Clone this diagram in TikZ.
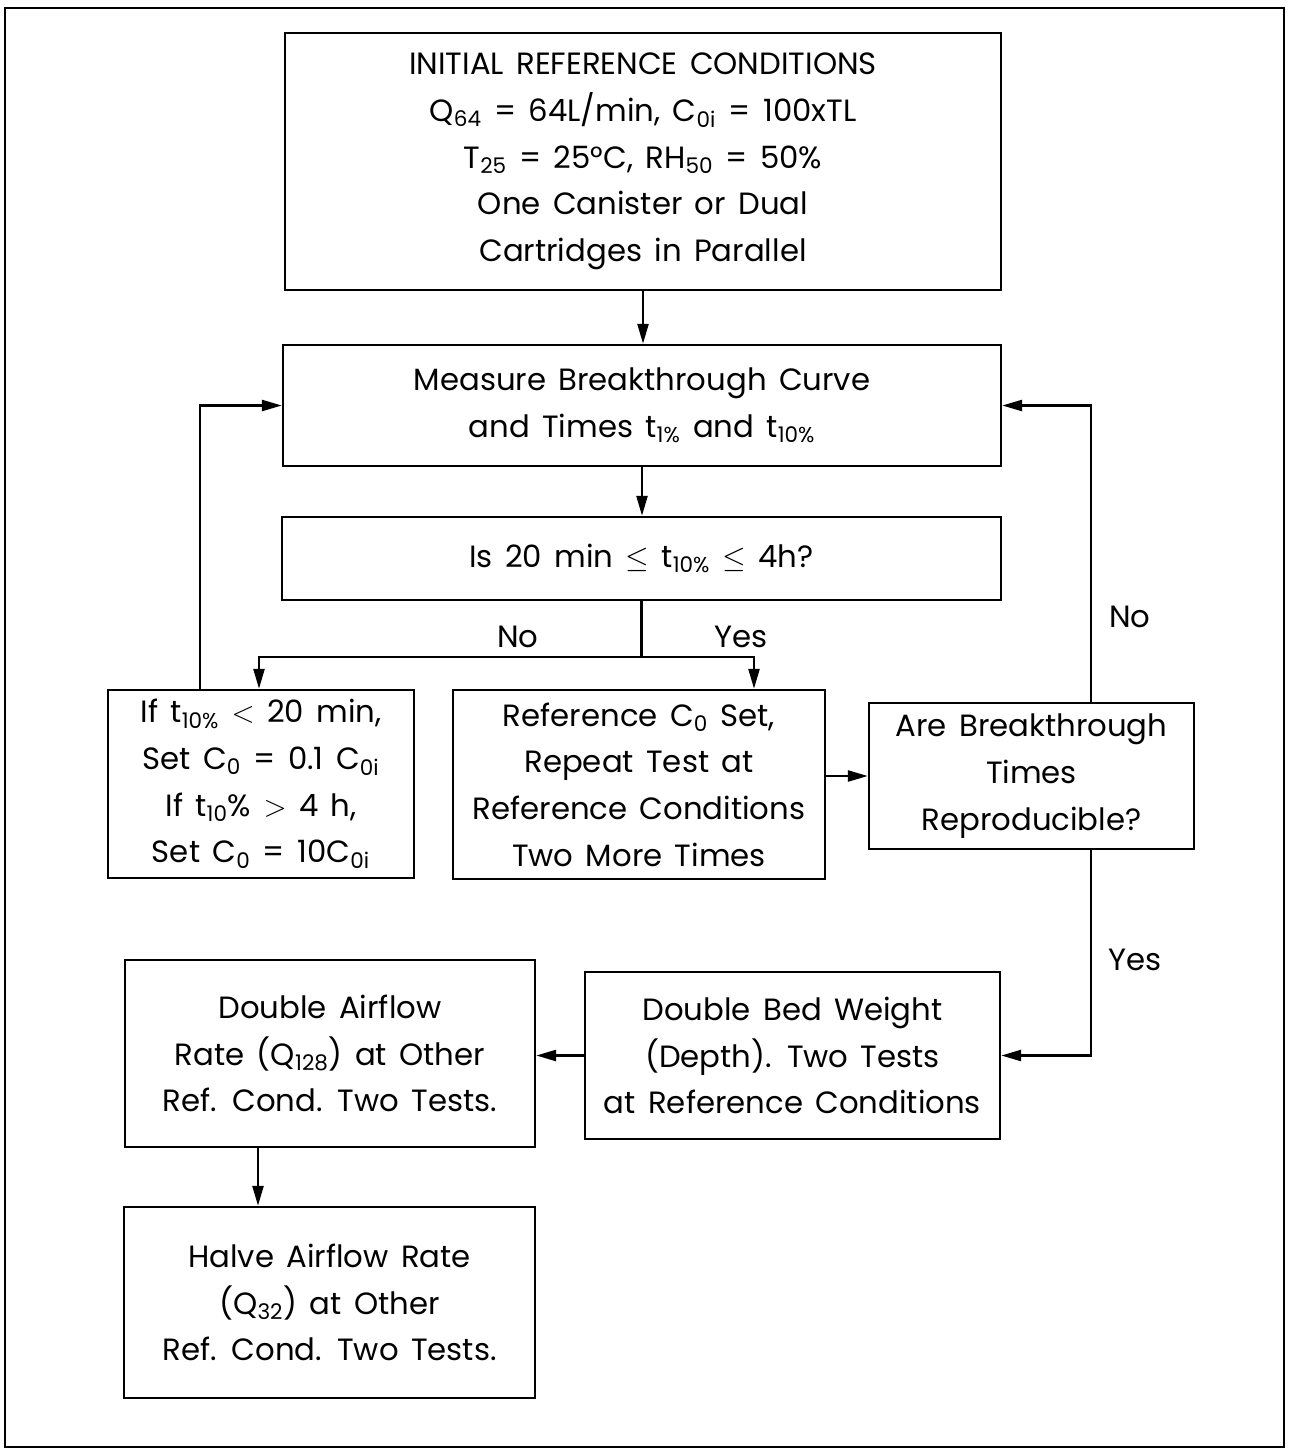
\documentclass[tikz,border=0pt]{standalone}
\usepackage{fontspec}
\setmainfont{Poppins}[WordSpace=1.5]
\usepackage{tikz}
\usetikzlibrary{shapes,arrows.meta,positioning,calc}
\tikzset{
  flowbox/.style={draw, rectangle, line width=1.4pt, align=center, inner sep=0pt,
    font=\fontsize{17.5}{26.6}\selectfont},
  flowlbl/.style={font=\fontsize{17.5}{20}\selectfont},
  flowarr/.style={line width=1.4pt, -{Triangle[length=0.4cm, width=0.22cm]}},
  flowline/.style={line width=1.4pt}
}

\begin{document}
\begin{tikzpicture}[x=0.02cm, y=-0.02cm]
    % page frame, coordinates in pixels of the original sheet
    \useasboundingbox (0,0) rectangle (1288,1450);
    \draw[line width=1.2pt] (5,8) rectangle (1284,1447);
    % boxes
    \node[flowbox, minimum width=14.32cm, minimum height=5.14cm] (init) at (643,161.5)
      {INITIAL REFERENCE CONDITIONS\\
       Q\textsubscript{64} = 64L/min, C\textsubscript{0i} = 100xTL\\
       T\textsubscript{25} = 25°C, RH\textsubscript{50} = 50\%\\
       One Canister or Dual\\
       Cartridges in Parallel};
    \node[flowbox, minimum width=14.36cm, minimum height=2.42cm] (meas) at (642,405.5)
      {Measure Breakthrough Curve\\
       and Times t\textsubscript{1\%} and t\textsubscript{10\%}};
    \node[flowbox, minimum width=14.38cm, minimum height=1.66cm] (test) at (641.5,558.5)
      {Is 20 min $\leq$ t\textsubscript{10\%} $\leq$ 4h?};
    \node[flowbox, minimum width=6.12cm, minimum height=3.76cm] (lowc) at (261,784)
      {If t\textsubscript{10\%} $<$ 20 min,\\
       Set C\textsubscript{0} = 0.1 C\textsubscript{0i}\\
       If t\textsubscript{10}\% $>$ 4 h,\\
       Set C\textsubscript{0} = 10C\textsubscript{0i}};
    \node[flowbox, minimum width=7.44cm, minimum height=3.78cm] (refc) at (639,784.5)
      {Reference C\textsubscript{0} Set,\\
       Repeat Test at\\
       Reference Conditions\\
       Two More Times};
    \node[flowbox, minimum width=6.5cm, minimum height=2.92cm] (repro) at (1031.5,776)
      {Are Breakthrough\\ Times\\ Reproducible?};
    \node[flowbox, minimum width=8.3cm, minimum height=3.34cm] (bed) at (792.5,1055.5)
      {Double Bed Weight\\
       (Depth). Two Tests\\
       at Reference Conditions};
    \node[flowbox, minimum width=8.2cm, minimum height=3.74cm] (dbl) at (330,1053.5)
      {Double Airflow\\
       Rate (Q\textsubscript{128}) at Other\\
       Ref. Cond. Two Tests.};
    \node[flowbox, minimum width=8.22cm, minimum height=3.82cm] (half) at (329.5,1302.5)
      {Halve Airflow Rate\\
       (Q\textsubscript{32}) at Other\\
       Ref. Cond. Two Tests.};
    % branch labels
    \node[flowlbl] (nosplit) at (518,637) {No};
    \node[flowlbl] (yessplit) at (741,637) {Yes};
    \node[flowlbl] (noback) at (1130,617) {No};
    \node[flowlbl] (yesdown) at (1135,960) {Yes};
    % connectors
    \coordinate (split) at ($(test.south)+(0,56)$);
    \draw[flowarr] (init.south) -- (init.south |- meas.north);
    \draw[flowarr] (meas.south) -- (meas.south |- test.north);
    \draw[flowline] (test.south) -- (split);
    \draw[flowarr] (split) -| ($(lowc.north)+(-2,0)$);
    \draw[flowarr] (split) -| ($(refc.north)+(115,0)$);
    \draw[flowarr] ($(lowc.north)+(-61,0)$) |- (meas.west);
    \draw[flowarr] (refc.east |- repro.west) -- (repro.west);
    \draw[flowarr] ($(repro.north)+(59.5,0)$) |- (meas.east);
    \draw[flowarr] ($(repro.south)+(59.5,0)$) |- (bed.east);
    \draw[flowarr] (bed.west) -- (bed.west -| dbl.east);
    \draw[flowarr] ($(dbl.south)+(-72,0)$) -- ($(half.north)+(-71.5,0)$);
  \end{tikzpicture}
\end{document}
